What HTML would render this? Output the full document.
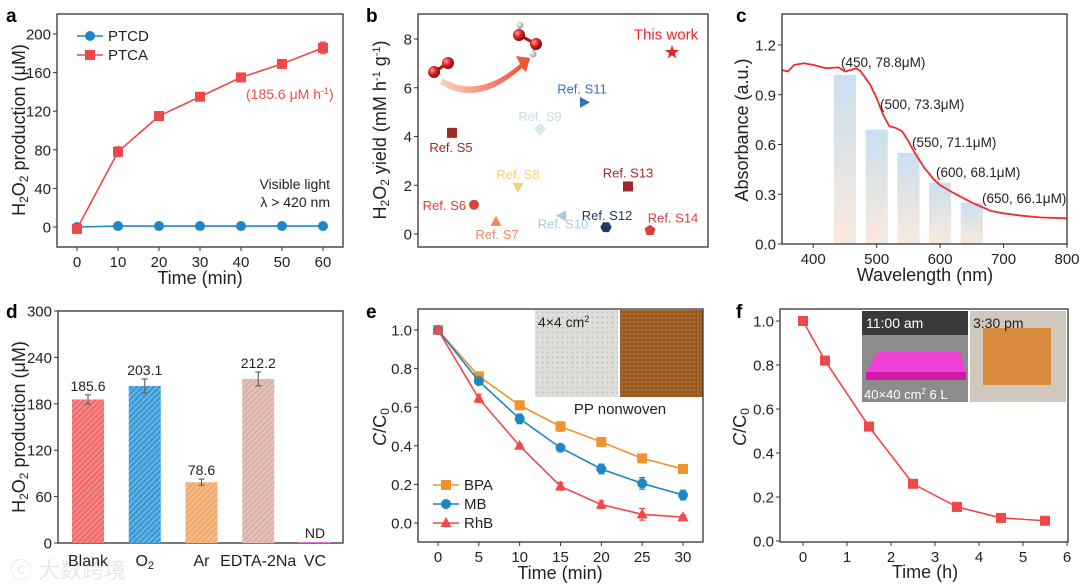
<!DOCTYPE html>
<html><head><meta charset="utf-8"><style>
html,body{margin:0;padding:0;background:#fff;}
svg{display:block;font-family:"Liberation Sans","Noto Sans CJK SC",sans-serif;}
</style></head><body>
<svg id="fig" width="1080" height="584" viewBox="0 0 1080 584" xmlns="http://www.w3.org/2000/svg">
<defs>
 <linearGradient id="barGrad" x1="0" y1="0" x2="0" y2="1"><stop offset="0" stop-color="#c9dff0"/><stop offset="1" stop-color="#fbe9da"/></linearGradient>
 <linearGradient id="arrowGrad" x1="0" y1="0" x2="1" y2="0"><stop offset="0" stop-color="#fbd3c6"/><stop offset="1" stop-color="#ee4a2c"/></linearGradient>
 <radialGradient id="ballR" cx="0.35" cy="0.35" r="0.7"><stop offset="0" stop-color="#ff9a9a"/><stop offset="0.5" stop-color="#d91f1f"/><stop offset="1" stop-color="#7a0a0a"/></radialGradient>
 <radialGradient id="ballW" cx="0.35" cy="0.35" r="0.7"><stop offset="0" stop-color="#fff"/><stop offset="1" stop-color="#999"/></radialGradient>
 <pattern id="dots" width="5" height="5" patternUnits="userSpaceOnUse"><rect width="5" height="5" fill="#dededa"/><circle cx="2.5" cy="2.5" r="0.9" fill="#bdbdb8"/></pattern>
 <pattern id="dotsB" width="4" height="4" patternUnits="userSpaceOnUse"><rect width="4" height="4" fill="#9a5a22"/><circle cx="2" cy="2" r="0.9" fill="#b7793a"/></pattern>
 <pattern id="hatch" width="4" height="4" patternUnits="userSpaceOnUse" patternTransform="rotate(45)"><line x1="0" y1="0" x2="0" y2="4" stroke="#ffffff" stroke-opacity="0.55" stroke-width="1.3"/></pattern>
</defs>

<!-- panel letters -->
<text x="6" y="22" font-size="19" font-weight="bold">a</text>
<text x="366" y="22" font-size="19" font-weight="bold">b</text>
<text x="736" y="22" font-size="19" font-weight="bold">c</text>
<text x="6" y="318" font-size="19" font-weight="bold">d</text>
<text x="366" y="318" font-size="19" font-weight="bold">e</text>
<text x="736" y="318" font-size="19" font-weight="bold">f</text>

<!-- axis titles -->
<text transform="translate(25,130) rotate(-90)" text-anchor="middle" font-size="18" fill="#222">H<tspan font-size="12" dy="3">2</tspan><tspan dy="-3">O</tspan><tspan font-size="12" dy="3">2</tspan><tspan dy="-3"> production (μM)</tspan></text>
<text x="200" y="284" text-anchor="middle" font-size="18" fill="#222">Time (min)</text>
<text transform="translate(386,130) rotate(-90)" text-anchor="middle" font-size="18" fill="#222">H<tspan font-size="12" dy="3">2</tspan><tspan dy="-3">O</tspan><tspan font-size="12" dy="3">2</tspan><tspan dy="-3"> yield (mM h</tspan><tspan font-size="11" dy="-6">-1</tspan><tspan dy="6"> g</tspan><tspan font-size="11" dy="-6">-1</tspan><tspan dy="6">)</tspan></text>
<text transform="translate(748,130) rotate(-90)" text-anchor="middle" font-size="18" fill="#222">Absorbance (a.u.)</text>
<text x="925" y="281" text-anchor="middle" font-size="18" fill="#222">Wavelength (nm)</text>
<text transform="translate(25,427) rotate(-90)" text-anchor="middle" font-size="18" fill="#222">H<tspan font-size="12" dy="3">2</tspan><tspan dy="-3">O</tspan><tspan font-size="12" dy="3">2</tspan><tspan dy="-3"> production (μM)</tspan></text>
<text transform="translate(386,427) rotate(-90)" text-anchor="middle" font-size="18" fill="#222"><tspan font-style="italic">C</tspan>/C<tspan font-size="12" dy="3">0</tspan></text>
<text x="560" y="579" text-anchor="middle" font-size="18" fill="#222">Time (min)</text>
<text transform="translate(746,427) rotate(-90)" text-anchor="middle" font-size="18" fill="#222"><tspan font-style="italic">C</tspan>/C<tspan font-size="12" dy="3">0</tspan></text>
<text x="925" y="578" text-anchor="middle" font-size="18" fill="#222">Time (h)</text>

<!-- panel a annotations -->
<text x="246" y="99" font-size="14" fill="#ee4b4b">(185.6 μM h<tspan font-size="9" dy="-5">-1</tspan><tspan dy="5">)</tspan></text>
<text x="330" y="189" text-anchor="end" font-size="14" fill="#222">Visible light</text>
<text x="330" y="207" text-anchor="end" font-size="14" fill="#222">λ &gt; 420 nm</text>

<!-- panel b molecule illustration -->
<g>
 <path d="M442,78 Q478,100 520,64 L516,56 L530,58 L526,72 L522,68 Q478,108 440,84 Z" fill="url(#arrowGrad)"/>
 <line x1="434" y1="72" x2="448" y2="63" stroke="#a11" stroke-width="3"/>
 <circle cx="434" cy="72" r="6" fill="url(#ballR)"/>
 <circle cx="448" cy="63" r="6" fill="url(#ballR)"/>
 <line x1="520" y1="25" x2="519" y2="35" stroke="#888" stroke-width="2"/>
 <line x1="519" y1="35" x2="536" y2="44" stroke="#a11" stroke-width="3"/>
 <line x1="536" y1="44" x2="533" y2="54" stroke="#888" stroke-width="2"/>
 <circle cx="520" cy="25" r="3.5" fill="url(#ballW)"/>
 <circle cx="533" cy="54" r="3.5" fill="url(#ballW)"/>
 <circle cx="519" cy="35" r="6" fill="url(#ballR)"/>
 <circle cx="536" cy="44" r="6" fill="url(#ballR)"/>
</g>

<!-- panel e insets -->
<rect x="535" y="310" width="83" height="87" fill="url(#dots)"/>
<rect x="620" y="310" width="83" height="87" fill="url(#dotsB)"/>
<text x="538" y="327" font-size="14" fill="#222">4×4 cm<tspan font-size="9" dy="-5">2</tspan></text>
<text x="620" y="414" text-anchor="middle" font-size="15" fill="#222">PP nonwoven</text>

<!-- panel f insets -->
<g>
 <rect x="862" y="311" width="106" height="91" fill="#8c8c8c"/>
 <rect x="862" y="311" width="106" height="24" fill="#3a3a3a"/>
 <polygon points="866,372 878,352 960,352 966,372" fill="#f03fd4"/>
 <rect x="866" y="372" width="100" height="8" fill="#d11aa8"/>
 <text x="866" y="328" font-size="14" fill="#fff">11:00 am</text>
 <text x="864" y="399" font-size="13" fill="#fff">40×40 cm<tspan font-size="8" dy="-5">2</tspan><tspan dy="5">  6 L</tspan></text>
</g>
<g>
 <rect x="970" y="311" width="96" height="91" fill="#cfc9bd"/>
 <rect x="983" y="328" width="68" height="57" fill="#d88a3a"/>
 <text x="973" y="328" font-size="14" fill="#222">3:30 pm</text>
</g>

<text x="10" y="578" font-size="22" fill="#e2e2e2" opacity="0.8">ⓒ 大数跨境</text>

<g id="plots"></g>
</svg>

<script>
// ---------- data ----------
const aTime = [0, 10, 20, 30, 40, 50, 60];
const aPTCD = [0, 1, 1, 1, 1, 1, 1];
const aPTCA = [-2, 78, 115, 135, 155, 169, 185.6];
const aPTCAErr = [2, 5, 4, 3, 4, 3, 6];
const aYTicks = [0, 40, 80, 120, 160, 200];
const aXTicks = [0, 10, 20, 30, 40, 50, 60];

const bRefs = ['Ref. S5','Ref. S6','Ref. S7','Ref. S8','Ref. S9','Ref. S10','Ref. S11','Ref. S12','Ref. S13','Ref. S14','This work'];
const bYield = [4.15, 1.2, 0.5, 1.93, 4.3, 0.75, 5.4, 0.28, 1.95, 0.15, 7.45];
const bColors = ['#9b2a2a','#d9403a','#f08a5a','#f5cf80','#dbe9f3','#a7c9e2','#3b6fb6','#1f3a66','#9b2a2a','#d9403a','#e8232a'];
const bShapes = ['square','circle','triangle','tridown','diamond','trileft','triright','hexagon','square','pentagon','star'];
const bYTicks = [0, 2, 4, 6, 8];

const cBarWl = [450, 500, 550, 600, 650];
const cBarAbs = [1.02, 0.69, 0.55, 0.37, 0.25];
const cBarLabels = ['(450, 78.8μM)','(500, 73.3μM)','(550, 71.1μM)','(600, 68.1μM)','(650, 66.1μM)'];
const cWl = [350,360,370,385,400,420,440,450,460,468,475,490,500,510,520,530,540,550,560,575,590,600,620,650,680,700,730,760,800];
const cAbs = [1.05,1.04,1.08,1.09,1.08,1.06,1.065,1.04,1.05,1.06,1.04,0.96,0.88,0.78,0.71,0.70,0.68,0.62,0.55,0.46,0.39,0.355,0.31,0.25,0.20,0.185,0.17,0.16,0.155];
const cYTicks = [0, 0.3, 0.6, 0.9, 1.2];
const cXTicks = [400, 500, 600, 700, 800];

const dCats = ['Blank','O2','Ar','EDTA-2Na','VC'];
const dVals = [185.6, 203.1, 78.6, 212.2, 1];
const dErr = [6, 9, 4, 9, 0];
const dLabels = ['185.6','203.1','78.6','212.2','ND'];
const dColors = ['#f26b6d','#3d9bd8','#f3aa6c','#dcb3aa','#e04fd8'];
const dYTicks = [0, 60, 120, 180, 240, 300];

const eTime = [0, 5, 10, 15, 20, 25, 30];
const eBPA = [1, 0.76, 0.61, 0.50, 0.42, 0.335, 0.28];
const eMB = [1, 0.735, 0.54, 0.39, 0.28, 0.205, 0.145];
const eRhB = [1, 0.645, 0.40, 0.19, 0.095, 0.045, 0.03];
const eBPAErr = [0.01, 0.01, 0.015, 0.025, 0.015, 0.01, 0.01];
const eMBErr = [0.01, 0.015, 0.025, 0.01, 0.025, 0.03, 0.025];
const eRhBErr = [0.01, 0.02, 0.01, 0.02, 0.02, 0.03, 0.01];
const eYTicks = [0, 0.2, 0.4, 0.6, 0.8, 1.0];
const eXTicks = [0, 5, 10, 15, 20, 25, 30];

const fTime = [0, 0.5, 1.5, 2.5, 3.5, 4.5, 5.5];
const fC = [1, 0.82, 0.52, 0.26, 0.155, 0.105, 0.092];
const fYTicks = [0, 0.2, 0.4, 0.6, 0.8, 1.0];
const fXTicks = [0, 1, 2, 3, 4, 5, 6];

// ---------- helpers ----------
const NS = 'http://www.w3.org/2000/svg';
const root = document.getElementById('plots');
function mk(tag, attrs, parent) {
  const e = document.createElementNS(NS, tag);
  for (const k in attrs) e.setAttribute(k, attrs[k]);
  (parent || root).appendChild(e);
  return e;
}
function lin(d0, d1, r0, r1) { return v => r0 + (v - d0) * (r1 - r0) / (d1 - d0); }
function frame(x0, y0, x1, y1, name) {
  const r = mk('rect', {x: x0, y: y0, width: x1 - x0, height: y1 - y0, fill: 'none', stroke: '#333', 'stroke-width': 1.3});
  
  
}
function yTicks(vals, sy, x0, fmt, name) {
  vals.forEach(v => {
    const t = mk('line', {x1: x0, x2: x0 - 4, y1: sy(v), y2: sy(v), stroke: '#333', 'stroke-width': 1});
    
    
    const l = mk('text', {x: x0 - 6, y: sy(v) + 5.5, 'text-anchor': 'end', 'font-size': 15, fill: '#222'});
    l.textContent = fmt(v);
    
    
  });
}
function xTicks(vals, sx, y0, fmt, name) {
  vals.forEach(v => {
    const t = mk('line', {x1: sx(v), x2: sx(v), y1: y0, y2: y0 + 4, stroke: '#333', 'stroke-width': 1});
    
    
    const l = mk('text', {x: sx(v), y: y0 + 20, 'text-anchor': 'middle', 'font-size': 15, fill: '#222'});
    l.textContent = fmt(v);
    
    
  });
}
function shape(kind, cx, cy, s, color) {
  let e;
  const p = pts => mk('polygon', {points: pts.map(q => (cx + q[0] * s) + ',' + (cy + q[1] * s)).join(' '), fill: color});
  if (kind === 'circle') e = mk('circle', {cx: cx, cy: cy, r: s, fill: color});
  else if (kind === 'square') e = mk('rect', {x: cx - s, y: cy - s, width: 2 * s, height: 2 * s, fill: color});
  else if (kind === 'triangle') e = p([[0,-1.2],[1.1,0.8],[-1.1,0.8]]);
  else if (kind === 'tridown') e = p([[0,1.2],[1.1,-0.8],[-1.1,-0.8]]);
  else if (kind === 'trileft') e = p([[-1.2,0],[0.8,-1.1],[0.8,1.1]]);
  else if (kind === 'triright') e = p([[1.2,0],[-0.8,-1.1],[-0.8,1.1]]);
  else if (kind === 'diamond') e = p([[0,-1.3],[1.3,0],[0,1.3],[-1.3,0]]);
  else if (kind === 'hexagon') { const a = []; for (let i = 0; i < 6; i++) a.push([1.15*Math.cos(i*Math.PI/3), 1.15*Math.sin(i*Math.PI/3)]); e = p(a); }
  else if (kind === 'pentagon') { const a = []; for (let i = 0; i < 5; i++) a.push([1.15*Math.sin(i*2*Math.PI/5), -1.15*Math.cos(i*2*Math.PI/5)]); e = p(a); }
  else { const a = []; for (let i = 0; i < 10; i++) { const r = i % 2 ? 0.6 : 1.5; a.push([r*Math.sin(i*Math.PI/5), -r*Math.cos(i*Math.PI/5)]); } e = p(a); }
  return e;
}
function errBar(x, y0, y1, color, name) {
  const g = mk('path', {d: `M${x},${y0}V${y1}M${x-3},${y0}H${x+3}M${x-3},${y1}H${x+3}`, stroke: color, 'stroke-width': 1.2, fill: 'none'});
  
  
}
function series(xs, ys, sx, sy, color, kind, size, name, errs) {
  const d = xs.map((x, i) => (i ? 'L' : 'M') + sx(x) + ',' + sy(ys[i])).join('');
  const ln = mk('path', {d: d, stroke: color, 'stroke-width': 1.6, fill: 'none'});
  
  
  xs.forEach((x, i) => {
    if (errs) errBar(sx(x), sy(ys[i] - errs[i]), sy(ys[i] + errs[i]), color, name + '-error-bar');
    const m = shape(kind, sx(x), sy(ys[i]), size, color);
    
    
  });
}
function legendEntry(x, y, color, kind, label, name) {
  const l = mk('line', {x1: x, x2: x + 26, y1: y, y2: y, stroke: color, 'stroke-width': 1.6});
  
  
  const m = shape(kind, x + 13, y, 5, color);
  
  
  const t = mk('text', {x: x + 31, y: y + 5, 'font-size': 15, fill: '#222'});
  t.textContent = label;
  
  
}

// ---------- panel a ----------
{
  const sx = lin(0, 60, 77, 323), sy = lin(0, 200, 227, 34);
  frame(57, 14, 343, 247, 'a-plot-frame');
  yTicks(aYTicks, sy, 57, v => v, 'a-y-axis');
  xTicks(aXTicks, sx, 247, v => v, 'a-x-axis');
  series(aTime, aPTCD, sx, sy, '#1f86c6', 'circle', 5, 'a-ptcd', null);
  series(aTime, aPTCA, sx, sy, '#f04848', 'square', 5, 'a-ptca', aPTCAErr);
  legendEntry(77, 36, '#1f86c6', 'circle', 'PTCD', 'a-legend-ptcd');
  legendEntry(77, 55, '#f04848', 'square', 'PTCA', 'a-legend-ptca');
}
// ---------- panel b ----------
{
  const sx = lin(0, 1, 430, 452), sy = lin(0, 8, 234, 39);
  frame(418, 14, 708, 247, 'b-plot-frame');
  yTicks(bYTicks, sy, 418, v => v, 'b-y-axis');
  // label offsets relative to each marker: [dx, dy, anchor]
  const offs = [[-1,15,'middle'],[-8,1,'end'],[1,13,'middle'],[0,-12,'middle'],[0,-12,'middle'],[1,9,'middle'],[-2,-13,'middle'],[1,-11,'middle'],[0,-13,'middle'],[23,-12,'middle'],[-6,-17,'middle']];
  bRefs.forEach((r, i) => {
    const cx = sx(i + 1), cy = sy(bYield[i]);
    const m = shape(bShapes[i], cx, cy, 5, bColors[i]);
    
    
    const t = mk('text', {x: cx + offs[i][0], y: cy + offs[i][1] + 4, 'text-anchor': offs[i][2], 'font-size': i === 10 ? 15 : 13, fill: bColors[i] === '#dbe9f3' ? '#c8dbe8' : bColors[i]});
    t.textContent = r;
    
    
  });
}
// ---------- panel c ----------
{
  const sx = lin(350, 800, 781.5, 1067), sy = lin(0, 1.2, 244, 45);
  const bw = sx(385) - sx(350);
  cBarWl.forEach((w, i) => {
    const b = mk('rect', {x: sx(w) - bw / 2, y: sy(cBarAbs[i]), width: bw, height: sy(0) - sy(cBarAbs[i]), fill: 'url(#barGrad)'});
    
    
  });
  const d = cWl.map((w, i) => (i ? 'L' : 'M') + sx(w) + ',' + sy(cAbs[i])).join('');
  const ln = mk('path', {d: d, stroke: '#ee2c2c', 'stroke-width': 1.8, fill: 'none'});
  
  
  const lp = [[841,67],[880,109],[912,147],[936,177],[982,203]];
  cBarLabels.forEach((s, i) => {
    const t = mk('text', {x: lp[i][0], y: lp[i][1], 'font-size': 13.5, fill: '#222'});
    t.textContent = s;
    
    
  });
  frame(782, 14, 1067, 244, 'c-plot-frame');
  yTicks(cYTicks, sy, 782, v => v.toFixed(1), 'c-y-axis');
  xTicks(cXTicks, sx, 244, v => v, 'c-x-axis');
}
// ---------- panel d ----------
{
  const sy = lin(0, 300, 543, 311);
  const sx = i => 88 + i * 56.75;
  frame(58, 311, 343, 543, 'd-plot-frame');
  yTicks(dYTicks, sy, 58, v => v, 'd-y-axis');
  dCats.forEach((c, i) => {
    const y = sy(dVals[i]);
    const b = mk('rect', {x: sx(i) - 16, y: y, width: 32, height: sy(0) - y, fill: dColors[i]});
    
    
    const h = mk('rect', {x: sx(i) - 16, y: y, width: 32, height: sy(0) - y, fill: 'url(#hatch)'});
    
    
    if (dErr[i]) errBar(sx(i), sy(dVals[i] - dErr[i]), sy(dVals[i] + dErr[i]), '#666', 'd-error-bar');
    const t = mk('text', {x: sx(i), y: sy(dVals[i] + dErr[i]) - 4, 'text-anchor': 'middle', 'font-size': 14, fill: '#222'});
    t.textContent = dLabels[i];
    
    
    const xl = mk('text', {x: sx(i), y: 566, 'text-anchor': 'middle', 'font-size': 16, fill: '#222'});
    if (c === 'O2') xl.innerHTML = 'O<tspan font-size="11" dy="3">2</tspan>';
    else xl.textContent = c;
    
    
  });
}
// ---------- panel e ----------
{
  const sx = lin(0, 30, 438, 683), sy = lin(0, 1, 523, 330);
  frame(418, 309, 703, 542, 'e-plot-frame');
  yTicks(eYTicks, sy, 418, v => v.toFixed(1), 'e-y-axis');
  xTicks(eXTicks, sx, 542, v => v, 'e-x-axis');
  series(eTime, eBPA, sx, sy, '#f0922e', 'square', 5, 'e-bpa', eBPAErr);
  series(eTime, eMB, sx, sy, '#1f86c6', 'circle', 5, 'e-mb', eMBErr);
  series(eTime, eRhB, sx, sy, '#f04848', 'triangle', 5, 'e-rhb', eRhBErr);
  legendEntry(433, 485, '#f0922e', 'square', 'BPA', 'e-legend-bpa');
  legendEntry(433, 504, '#1f86c6', 'circle', 'MB', 'e-legend-mb');
  legendEntry(433, 523, '#f04848', 'triangle', 'RhB', 'e-legend-rhb');
}
// ---------- panel f ----------
{
  const sx = lin(0, 6, 803, 1067), sy = lin(0, 1, 541, 321);
  frame(780, 309, 1068, 542, 'f-plot-frame');
  yTicks(fYTicks, sy, 780, v => v.toFixed(1), 'f-y-axis');
  xTicks(fXTicks, sx, 542, v => v, 'f-x-axis');
  series(fTime, fC, sx, sy, '#f04848', 'square', 5, 'f-decay', null);
}
</script>
</body></html>
